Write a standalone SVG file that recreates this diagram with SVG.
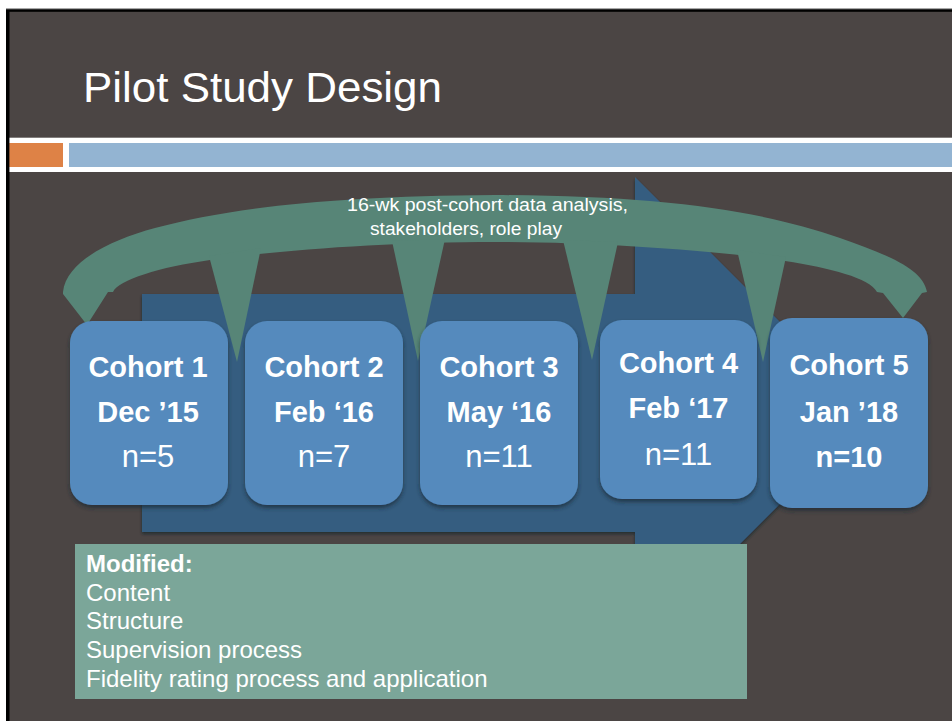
<svg xmlns="http://www.w3.org/2000/svg" width="952" height="721" viewBox="0 0 952 721">
  <defs>
    <style>
      .bg { fill: #4b4544; }
      .cohort { fill: #548abd; filter: url(#boxShadow); }
      .ct { font-family: "Liberation Sans", Arial, sans-serif; fill: #ffffff; text-anchor: middle; }
      .bold { font-weight: bold; font-size: 29px; }
      .reg { font-size: 31px; }
      .arc { fill: #578577; }
      .mod { font-family: "Liberation Sans", Arial, sans-serif; font-size: 24px; fill: #ffffff; }
    </style>
    <filter id="boxShadow" x="-10%" y="-10%" width="120%" height="125%">
      <feDropShadow dx="0" dy="3" stdDeviation="2" flood-color="#1b2633" flood-opacity="0.7"/>
    </filter>
    <filter id="arrowShadow" x="-5%" y="-5%" width="110%" height="110%">
      <feDropShadow dx="0" dy="2" stdDeviation="1.5" flood-color="#15202b" flood-opacity="0.7"/>
    </filter>
  </defs>

  <!-- slide frame -->
  <rect x="0" y="0" width="952" height="721" fill="#ffffff"/>
  <rect x="6" y="8" width="946" height="1.2" fill="#a8a8a8"/>
  <rect x="6" y="9.2" width="946" height="712" fill="#000000"/>
  <rect x="9.5" y="11.8" width="943" height="710" class="bg"/>

  <!-- header -->
  <g id="header">
    <text x="83" y="102" font-family="'Liberation Sans', Arial, sans-serif" font-size="43" fill="#ffffff" textLength="359" lengthAdjust="spacingAndGlyphs">Pilot Study Design</text>
    <rect x="9.5" y="137.7" width="943" height="5.3" fill="#ffffff"/>
    <rect x="9.5" y="143" width="53.5" height="24" fill="#de8246"/>
    <rect x="63" y="143" width="6" height="24" fill="#ffffff"/>
    <rect x="69" y="143" width="883" height="24" fill="#93b4d2"/>
    <rect x="9.5" y="167" width="943" height="5" fill="#ffffff"/>
  </g>

  <!-- big timeline arrow -->
  <g id="timeline-arrow">
    <path d="M142,294 L635,294 L635,177 L871,413 L635,649 L635,532 L142,532 Z" fill="#365d80" filter="url(#arrowShadow)"/>
  </g>

  <!-- arc with spikes (connectors) -->
  <g id="connectors">
    <path class="arc" d="M63,292 C66,262 110,240 155,228 C230,208 330,196 495,195 C660,196 760,210 840,238 C885,254 923,268 927,292 L922,293 L903,318 L883,293 L877,292 C870,278 830,268 785,261 C720,251 600,242 495,242 C390,242 280,250 210,260 C160,267 118,280 113,292 L108,292 L87,325 L63,294 Z"/>
    <polygon class="arc" points="209,256 261,248 237,362"/>
    <polygon class="arc" points="392,241 445,239 418,361"/>
    <polygon class="arc" points="563,240 618,242 592,360"/>
    <polygon class="arc" points="737,250 786,257 763,362"/>
    <text x="347" y="211" font-family="'Liberation Sans', Arial, sans-serif" font-size="17.5" fill="#ffffff" textLength="281" lengthAdjust="spacingAndGlyphs">16-wk post-cohort data analysis,</text>
    <text x="370" y="235" font-family="'Liberation Sans', Arial, sans-serif" font-size="17.5" fill="#ffffff" textLength="192" lengthAdjust="spacingAndGlyphs">stakeholders, role play</text>
  </g>

  <!-- cohorts -->
  <g id="cohort1">
    <rect class="cohort" x="70" y="321" width="158" height="184" rx="22" ry="22"/>
    <text class="ct bold" x="148" y="377">Cohort 1</text>
    <text class="ct bold" x="148" y="422">Dec ’15</text>
    <text class="ct reg" x="148" y="467">n=5</text>
  </g>
  <g id="cohort2">
    <rect class="cohort" x="245" y="321" width="158" height="184" rx="22" ry="22"/>
    <text class="ct bold" x="324" y="377">Cohort 2</text>
    <text class="ct bold" x="324" y="422">Feb ‘16</text>
    <text class="ct reg" x="324" y="467">n=7</text>
  </g>
  <g id="cohort3">
    <rect class="cohort" x="420" y="321" width="158" height="184" rx="22" ry="22"/>
    <text class="ct bold" x="499" y="377">Cohort 3</text>
    <text class="ct bold" x="499" y="422">May ‘16</text>
    <text class="ct reg" x="499" y="467">n=11</text>
  </g>
  <g id="cohort4">
    <rect class="cohort" x="600" y="320" width="157" height="179" rx="22" ry="22"/>
    <text class="ct bold" x="678.5" y="373">Cohort 4</text>
    <text class="ct bold" x="678.5" y="418">Feb ‘17</text>
    <text class="ct reg" x="678.5" y="465">n=11</text>
  </g>
  <g id="cohort5">
    <rect class="cohort" x="770" y="318" width="158" height="190" rx="22" ry="22"/>
    <text class="ct bold" x="849" y="375">Cohort 5</text>
    <text class="ct bold" x="849" y="422">Jan ’18</text>
    <text class="ct bold" x="849" y="467">n=10</text>
  </g>

  <!-- modifications box -->
  <g id="modified">
    <rect x="75" y="544" width="672" height="155" fill="#7ba699"/>
    <text class="mod" x="86" y="572" font-weight="bold">Modified:</text>
    <text class="mod" x="86" y="600.5">Content</text>
    <text class="mod" x="86" y="629">Structure</text>
    <text class="mod" x="86" y="658">Supervision process</text>
    <text class="mod" x="86" y="686.5">Fidelity rating process and application</text>
  </g>
</svg>
